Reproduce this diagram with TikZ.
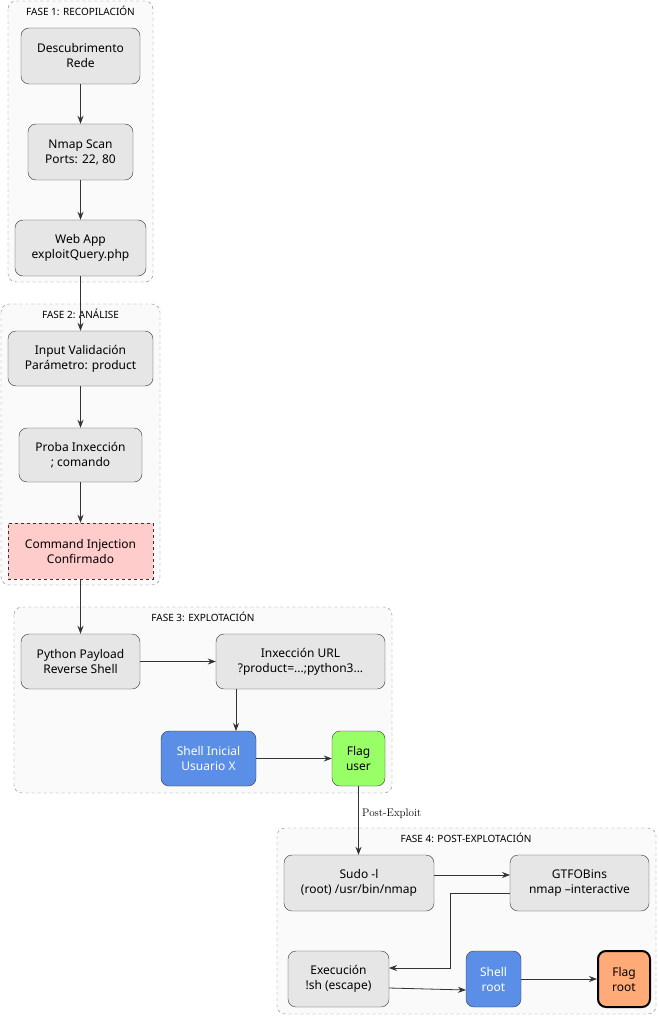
\documentclass[tikz,border=0pt]{standalone}
\usepackage{fontspec}
\setmainfont{Noto Sans}
\usetikzlibrary{arrows.meta}
\definecolor{bx}{HTML}{E6E6E6}
\definecolor{ln}{HTML}{333333}
\begin{document}
\begin{tikzpicture}[x=1pt,y=-1pt,
 box/.style={draw=ln,fill=bx,rounded corners=8pt,align=center,font=\fontsize{12}{15}\selectfont,inner sep=0pt},
 clus/.style={draw=gray,dashed,fill=black!2,rounded corners=8pt},
 clab/.style={font=\fontsize{10}{12}\selectfont,anchor=north},
 arr/.style={-{Stealth[length=8pt,width=6pt]},draw=ln,line width=0.8pt}]
\useasboundingbox (0,0) rectangle (658,1016);
\fill[white] (0,0) rectangle (658,1016);
\draw[clus] (8,1) rectangle (153,282);
\node[clab] (l1) at (80.5,3) {FASE 1: RECOPILACIÓN};
\draw[clus] (1,304) rectangle (160,585);
\node[clab] (l2) at (80.5,306) {FASE 2: ANÁLISE};
\draw[clus] (14,607) rectangle (392,793);
\node[clab] (l3) at (203,609) {FASE 3: EXPLOTACIÓN};
\draw[clus] (277,828) rectangle (656,1014);
\node[clab] (l4) at (466,830) {FASE 4: POST-EXPLOTACIÓN};
\newcommand{\bxn}[7][]{\node[box,#1,minimum width=#4-#3,minimum height=#6-#5] (#2) at ({(#3+#4)/2},{(#5+#6)/2}) {#7};}
\bxn{a}{21}{140}{28}{84}{Descubrimento\\Rede}
\bxn{b}{28}{133}{124}{180}{Nmap Scan\\Ports: 22, 80}
\bxn{c}{15}{146}{220}{276}{Web App\\exploitQuery.php}
\bxn{d}{8}{153}{331}{386}{Input Validación\\Parámetro: product}
\bxn{e}{19}{142}{428}{482}{Proba Inxección\\; comando}
\bxn[fill={rgb,255:red,255;green,204;blue,204},dashed,rounded corners=0pt]{f}{8}{153}{523}{579}{Command Injection\\Confirmado}
\bxn{g}{21}{140}{634}{689}{Python Payload\\Reverse Shell}
\bxn{h}{216}{385}{634}{689}{Inxección URL\\?product=...;python3...}
\bxn[fill={rgb,255:red,91;green,142;blue,230},text=white]{i}{161}{256}{731}{786}{Shell Inicial\\Usuario X}
\bxn[fill={rgb,255:red,153;green,255;blue,102}]{j}{332}{385}{731}{786}{Flag\\user}
\bxn{k}{284}{434}{855}{911}{Sudo -l\\(root) /usr/bin/nmap}
\bxn{m}{510}{649}{855}{911}{GTFOBins\\nmap --interactive}
\bxn{n}{288}{389}{951}{1007}{Execución\\!sh (escape)}
\bxn[fill={rgb,255:red,91;green,142;blue,230},text=white]{o}{466}{521}{951}{1007}{Shell\\root}
\bxn[fill={rgb,255:red,255;green,170;blue,119},draw=black,line width=2pt]{p}{598}{650}{951}{1007}{Flag\\root}
\draw[arr] (a) -- (b);
\draw[arr] (b) -- (c);
\draw[arr] (c) -- (d);
\draw[arr] (d) -- (e);
\draw[arr] (e) -- (f);
\draw[arr] (f) -- (g);
\draw[arr] (g.east) -- (h.west);
\draw[arr] (236,689) -- (236,731);
\draw[arr] (i) -- (j);
\draw[arr] (j.south) -- (k.north -| j.south) node[pos=0.4,right,font=\fontfamily{lmr}\selectfont\fontsize{11}{13}\selectfont] (pe) {Post-Exploit};
\draw[arr] (434,875) -- (510,875);
\draw[arr] (510,893) -- (450,893) -- (450,968) -- (389,968);
\draw[arr] (389,988) -- (466,990);
\draw[arr] (o) -- (p);
\end{tikzpicture}
\end{document}
